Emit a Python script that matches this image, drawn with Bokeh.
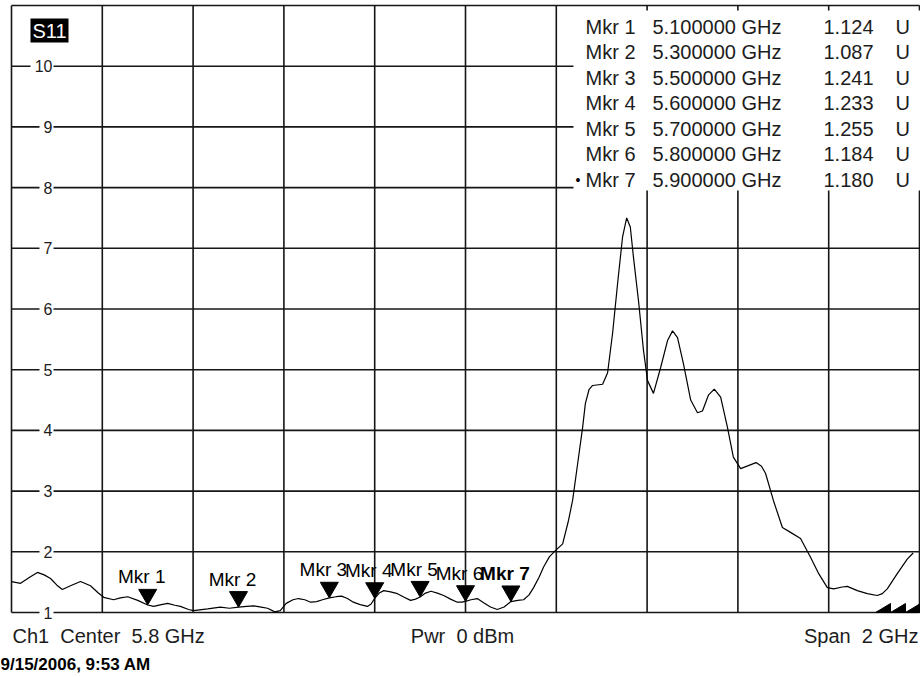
from bokeh.plotting import figure
from bokeh.models import Range1d, ColumnDataSource
from bokeh.embed import file_html
from bokeh.resources import INLINE
from bokeh.core.properties import value

# ---------------- data ----------------
freq_ghz = [4.800, 4.820, 4.840, 4.857, 4.872, 4.886, 4.900, 4.912, 4.930, 4.952,
            4.974, 4.990, 5.003, 5.025, 5.040, 5.056, 5.078, 5.100, 5.113, 5.130,
            5.144, 5.160, 5.172, 5.190, 5.201, 5.232, 5.260, 5.280, 5.300, 5.318,
            5.333, 5.350, 5.364, 5.380, 5.392, 5.405, 5.420, 5.432, 5.446, 5.459,
            5.472, 5.485, 5.500, 5.515, 5.527, 5.540, 5.553, 5.568, 5.584, 5.592,
            5.600, 5.610, 5.620, 5.635, 5.650, 5.665, 5.679, 5.690, 5.700, 5.712,
            5.724, 5.738, 5.752, 5.767, 5.782, 5.792, 5.800, 5.812, 5.826, 5.840,
            5.855, 5.870, 5.885, 5.900, 5.915, 5.928, 5.940, 5.950, 5.962, 5.972,
            5.985, 5.998, 6.014, 6.027, 6.036, 6.047, 6.058, 6.064, 6.072, 6.080,
            6.102, 6.113, 6.124, 6.135, 6.146, 6.155, 6.163, 6.170, 6.181, 6.192,
            6.201, 6.214, 6.230, 6.245, 6.256, 6.267, 6.280, 6.296, 6.311, 6.322,
            6.335, 6.348, 6.362, 6.377, 6.390, 6.406, 6.423, 6.440, 6.452, 6.461,
            6.478, 6.498, 6.516, 6.538, 6.560, 6.578, 6.597, 6.611, 6.630, 6.641,
            6.663, 6.685, 6.707, 6.718, 6.729, 6.751, 6.773, 6.786]
swr = [1.51, 1.48, 1.58, 1.66, 1.62, 1.56, 1.45, 1.38, 1.44, 1.51,
       1.44, 1.33, 1.25, 1.21, 1.24, 1.26, 1.20, 1.124, 1.10, 1.13,
       1.15, 1.12, 1.10, 1.05, 1.03, 1.06, 1.09, 1.07, 1.087, 1.10,
       1.11, 1.09, 1.07, 1.01, 1.03, 1.15, 1.21, 1.23, 1.21, 1.17,
       1.18, 1.21, 1.241, 1.26, 1.27, 1.23, 1.17, 1.13, 1.10, 1.14,
       1.233, 1.32, 1.36, 1.34, 1.31, 1.25, 1.20, 1.22, 1.255, 1.32,
       1.35, 1.32, 1.28, 1.22, 1.17, 1.17, 1.184, 1.21, 1.23, 1.16,
       1.09, 1.05, 1.09, 1.180, 1.20, 1.21, 1.29, 1.41, 1.58, 1.75,
       1.92, 2.02, 2.13, 2.52, 2.85, 3.45, 4.05, 4.44, 4.67, 4.74,
       4.76, 4.95, 5.60, 6.42, 7.19, 7.50, 7.35, 6.85, 6.14, 5.32,
       4.82, 4.61, 5.04, 5.48, 5.64, 5.53, 5.10, 4.50, 4.29, 4.32,
       4.58, 4.68, 4.55, 4.05, 3.56, 3.37, 3.42, 3.47, 3.41, 3.29,
       2.85, 2.40, 2.32, 2.22, 1.91, 1.64, 1.41, 1.39, 1.42, 1.43,
       1.36, 1.31, 1.28, 1.31, 1.39, 1.64, 1.88, 1.98]

marker_names = ["Mkr 1", "Mkr 2", "Mkr 3", "Mkr 4", "Mkr 5", "Mkr 6", "Mkr 7"]
marker_freq = [5.1, 5.3, 5.5, 5.6, 5.7, 5.8, 5.9]
marker_swr = [1.124, 1.087, 1.241, 1.233, 1.255, 1.184, 1.180]
active_marker = "Mkr 7"

y_ticks = [1, 2, 3, 4, 5, 6, 7, 8, 9, 10]
y_tick_labels = ["1", "2", "3", "4", "5", "6", "7", "8", "9", "10"]
y_top = 11
x_grid_ghz = [4.8, 5.0, 5.2, 5.4, 5.6, 5.8, 6.0, 6.2, 6.4, 6.6, 6.8]

trace_name = "S11"
channel = "Ch1"
center_ghz = 5.8
span_ghz = 2
power_dbm = 0
timestamp = "9/15/2006, 9:53 AM"

# ---------------- layout constants (pixel geometry of the page) ----------------
W, H = 920, 677
LEFT_PX, RIGHT_PX = 11, 919       # x of 4.8 GHz and 6.8 GHz
TOP_PX, BOTTOM_PX = 5, 612        # y of SWR 11 and SWR 1
X0, X1 = x_grid_ghz[0], x_grid_ghz[-1]
Y0 = y_ticks[0]
PXG = (RIGHT_PX - LEFT_PX) / (X1 - X0)      # px per GHz
PXU = (BOTTOM_PX - TOP_PX) / (y_top - Y0)   # px per SWR unit
FONT = "Liberation Sans"
INK = "#161616"
TXT = "#1c1c1c"
GAP = "\u00a0 "   # wide gap as on the instrument screen


def px_x(px):
    return X0 + (px - LEFT_PX) / PXG


def px_y(py):
    return Y0 + (BOTTOM_PX - py) / PXU


p = figure(width=W, height=H,
           x_range=Range1d(px_x(0), px_x(W)), y_range=Range1d(px_y(H), px_y(0)),
           output_backend="svg", toolbar_location=None,
           x_axis_location=None, y_axis_location=None,
           min_border_left=0, min_border_right=0, min_border_top=0, min_border_bottom=0)
p.background_fill_color = "white"
p.border_fill_color = "white"
p.outline_line_color = None
p.grid.visible = False

# graticule (grid + border)
p.segment(x0=x_grid_ghz, x1=x_grid_ghz, y0=[Y0] * len(x_grid_ghz), y1=[y_top] * len(x_grid_ghz),
          line_color=INK, line_width=1.6)
hy = y_ticks + [y_top]
p.segment(x0=[X0] * len(hy), x1=[X1] * len(hy), y0=hy, y1=hy, line_color=INK, line_width=1.6)

# y tick labels inside graticule, with white gaps
lab_w = [9 * len(t) + 5 for t in y_tick_labels]
p.rect(x=[px_x(53 - w / 2) for w in lab_w], y=y_ticks, width=lab_w, height=[14] * len(y_ticks),
       width_units="screen", height_units="screen", fill_color="white", line_color=None)
p.text(x=px_x(52), y=y_ticks, text=y_tick_labels, text_align="right", text_baseline="middle",
       text_font=value(FONT), text_font_size="16px", text_color=TXT)

# marker table background
p.quad(left=[px_x(573)], right=[px_x(W)], top=[px_y(10)], bottom=[px_y(190)],
       fill_color="white", line_color=None)

# trace
p.line(freq_ghz, swr, line_color="black", line_width=1.2)

# markers
mk_src = ColumnDataSource(dict(
    x=marker_freq, y=marker_swr,
    ytri=[v + 10.4 / PXU for v in marker_swr],
    name=marker_names,
    style=["bold" if n == active_marker else "normal" for n in marker_names],
))
p.scatter(x="x", y="ytri", source=mk_src, marker="inverted_triangle", size=18,
          fill_color="black", line_color="black")
p.text(x="x", y="y", text="name", source=mk_src, x_offset=-6, y_offset=-28,
       text_align="center", text_baseline="middle", text_font=value(FONT),
       text_font_size="19px", text_font_style="style", text_color="black")

# marker table
rows_y = [px_y(26 + 25.5 * i) for i in range(len(marker_names))]
tbl = ColumnDataSource(dict(
    y=rows_y, name=marker_names,
    f=[f"{f:.6f} GHz" for f in marker_freq],
    v=[f"{v:.3f}" for v in marker_swr],
    u=["U"] * len(marker_names),
))
common = dict(source=tbl, text_baseline="middle", text_font=value(FONT),
              text_font_size="20px", text_color=TXT)
p.text(x=px_x(585), y="y", text="name", text_align="left", **common)
p.text(x=px_x(652), y="y", text="f", text_align="left", **common)
p.text(x=px_x(873), y="y", text="v", text_align="right", **common)
p.text(x=px_x(895), y="y", text="u", text_align="left", **common)
act_i = marker_names.index(active_marker)
p.text(x=[px_x(575)], y=[rows_y[act_i]], text=["•"], text_align="left",
       text_baseline="middle", text_font=value(FONT), text_font_size="14px", text_color="black")

# trace name badge
p.rect(x=[px_x(49)], y=[px_y(30)], width=[38], height=[24], width_units="screen",
       height_units="screen", fill_color="black", line_color=None)
p.text(x=[px_x(49)], y=[px_y(30)], text=[trace_name], text_align="center", text_baseline="middle",
       text_font=value(FONT), text_font_size="20px", text_color="white")

# footer texts
foot = dict(text_baseline="middle", text_font=value(FONT), text_font_size="20px", text_color=TXT)
p.text(x=[px_x(12)], y=[px_y(635)], text=[f"{channel}{GAP}Center{GAP}{center_ghz:g} GHz"],
       text_align="left", **foot)
p.text(x=[center_ghz], y=[px_y(635)], x_offset=-3, text=[f"Pwr{GAP}{power_dbm} dBm"],
       text_align="center", **foot)
p.text(x=[px_x(918)], y=[px_y(635)], text=[f"Span{GAP}{span_ghz:g} GHz"],
       text_align="right", **foot)
p.text(x=[px_x(0)], y=[px_y(664)], text=[timestamp], text_align="left", text_baseline="middle",
       text_font=value(FONT), text_font_size="17px", text_font_style="bold", text_color="black")

# sweep indicator teeth (bottom right)
TW = 15 / PXG
TH = 9 / PXU
xs, ys = [], []
for i in range(3):
    x0 = px_x(W) - (3 - i) * TW
    xs.append([x0, x0 + TW, x0 + TW])
    ys.append([Y0, Y0, Y0 + TH])
p.patches(xs, ys, fill_color="black", line_color="black")

open("out.html", "w").write(file_html(p, INLINE))
